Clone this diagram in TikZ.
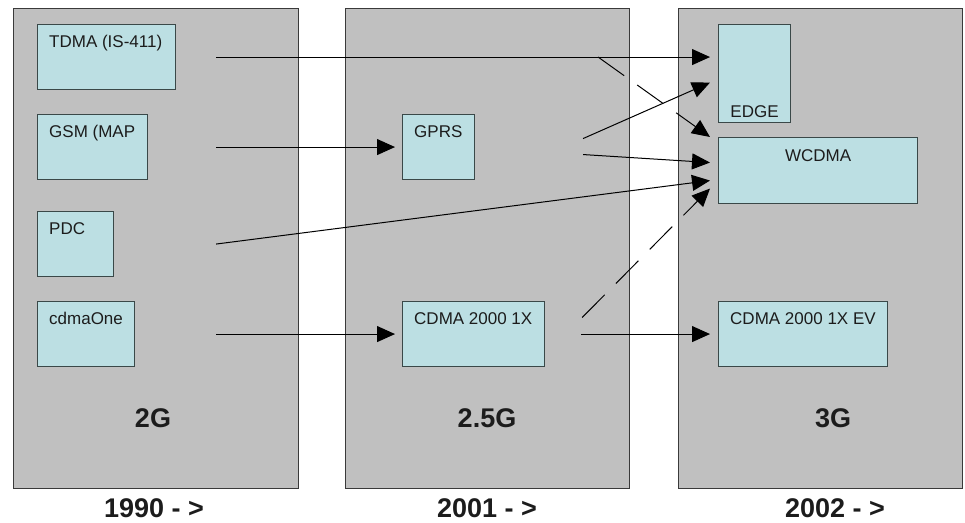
\documentclass[tikz,border=0pt]{standalone}
\usepackage{fontspec}
\setmainfont{Liberation Sans}
\usetikzlibrary{arrows.meta,calc}
\definecolor{panelgray}{HTML}{C0C0C0}
\definecolor{panelline}{HTML}{3A3A3A}
\definecolor{boxcyan}{HTML}{BCDFE3}
\definecolor{boxline}{HTML}{3A4848}
\definecolor{inktext}{HTML}{1C1C1C}
\begin{document}
\begin{tikzpicture}[x=1pt,y=-1pt,
  panel/.style={draw=panelline, fill=panelgray, line width=1.3pt, rectangle,
    anchor=north west, inner sep=0pt, minimum height=480pt},
  tech/.style={draw=boxline, fill=boxcyan, line width=1.1pt, rectangle,
    anchor=north west, inner sep=0pt},
  lab/.style={font=\fontsize{17}{19}\selectfont, inner sep=0pt, text=inktext},
  labnw/.style={lab, anchor=north west, xshift=12pt, yshift=-11pt},
  gen/.style={font=\bfseries\fontsize{27}{31}\selectfont, inner sep=0pt, text=inktext},
  arr/.style={-{Triangle[length=18pt,width=16pt]}, line width=1pt, draw=black},
  darr/.style={arr, dash pattern=on 32pt off 16pt}
]
\useasboundingbox (0,0) rectangle (965,522);

% generation panels
\node[panel, minimum width=285pt] (p2g)  at (13,8) {};
\node[panel, minimum width=284pt] (p25g) at (345,8) {};
\node[panel, minimum width=284pt] (p3g)  at (678,8) {};

% 2G technologies
\node[tech, minimum width=138pt, minimum height=65pt,
  label={[labnw]north west:TDMA (IS-411)}] (tdma) at (37,24) {};
\node[tech, minimum width=110pt, minimum height=65pt,
  label={[labnw]north west:GSM (MAP}] (gsm) at (37,114) {};
\node[tech, minimum width=76pt, minimum height=65pt,
  label={[labnw]north west:PDC}] (pdc) at (37,211) {};
\node[tech, minimum width=97pt, minimum height=65pt,
  label={[labnw]north west:cdmaOne}] (cdmaone) at (37,301) {};

% 2.5G technologies
\node[tech, minimum width=72pt, minimum height=65pt,
  label={[labnw]north west:GPRS}] (gprs) at (402,114) {};
\node[tech, minimum width=142pt, minimum height=65pt,
  label={[labnw]north west:CDMA 2000 1X}] (cdma1x) at (402,301) {};

% 3G technologies
\node[tech, minimum width=72pt, minimum height=98pt,
  label={[lab, anchor=south, yshift=5pt]south:EDGE}] (edge) at (718,24) {};
\node[tech, minimum width=199pt, minimum height=66pt,
  label={[lab, anchor=north, yshift=-12pt]north:WCDMA}] (wcdma) at (718,137) {};
\node[tech, minimum width=169pt, minimum height=65pt,
  label={[labnw]north west:CDMA 2000 1X EV}] (cdmaev) at (718,301) {};

% generation names and years
\node[gen] (g2)  at (153,418) {2G};
\node[gen] (g25) at (487,418) {2.5G};
\node[gen] (g3)  at (833,418) {3G};
\node[gen] (y1990) at (154,508) {1990 - >};
\node[gen] (y2001) at (487,508) {2001 - >};
\node[gen] (y2002) at (835,508) {2002 - >};

% evolution paths
\draw[arr, shorten <=40pt, shorten >=8pt] (tdma.east) -- (tdma.east -| edge.west);
\draw[arr, shorten <=68pt, shorten >=7pt] (gsm.east) -- (gprs.west);
\draw[arr, shorten <=81pt, shorten >=7pt] (cdmaone.east) -- (cdma1x.west);
\draw[arr, shorten <=36pt, shorten >=8pt] (cdma1x.east) -- (cdmaev.west);
\draw[arr] ($(pdc.east)+(102,0)$) -- ($(wcdma.west)+(-8,10)$);
\draw[arr] ($(gprs.east)+(108,-8.5)$) -- ($(edge.west)+(-8,9)$);
\draw[arr] ($(gprs.east)+(108,7.5)$) -- ($(wcdma.west)+(-8,-8)$);
\draw[darr] ($(tdma.east)+(422,0)$) -- ($(wcdma.north west)+(-8,0)$);
\draw[darr] ($(cdma1x.east)+(37,-16.5)$) -- ($(wcdma.west)+(-8,18)$);
\end{tikzpicture}
\end{document}
